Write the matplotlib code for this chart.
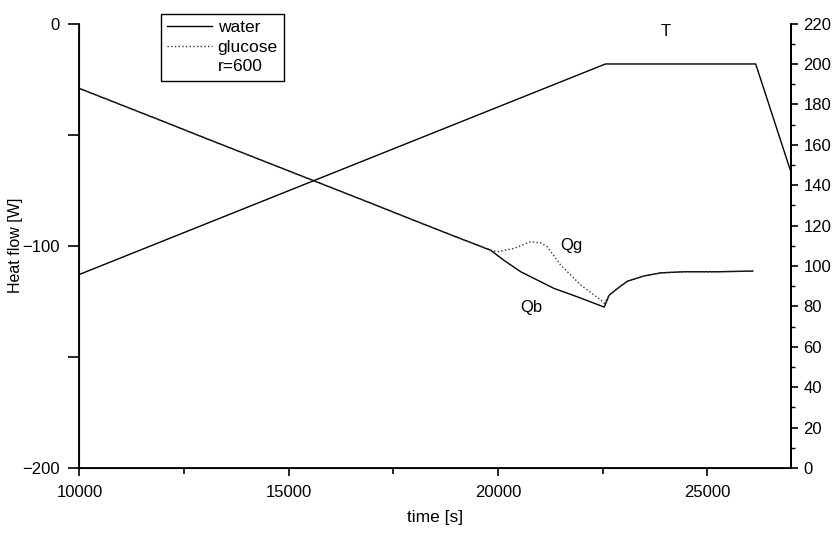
import matplotlib
matplotlib.use('Agg')
import matplotlib.pyplot as plt
from matplotlib.lines import Line2D
from matplotlib.ticker import MultipleLocator, FixedLocator

plt.rcParams['font.family'] = ['Liberation Sans', 'DejaVu Sans']
plt.rcParams['font.size'] = 12

# heat flow, water (baseline Qb)
t_water = [10000, 11000, 12000, 13000, 14000, 15000, 16000, 17000, 18000, 19000,
           19825, 20140, 20545, 21340, 21900, 22540,
           22660, 22860, 23100, 23490, 23890, 24450, 25250, 26090]
q_water = [-29.2, -36.6, -44.0, -51.5, -58.9, -66.3, -73.7, -81.1, -88.6, -96.0,
           -102.0, -106.5, -111.7, -119.2, -123.0, -127.6,
           -122.2, -119.2, -115.9, -113.6, -112.2, -111.7, -111.7, -111.4]

# heat flow, glucose (Qg)
t_gluc = [10000, 11000, 12000, 13000, 14000, 15000, 16000, 17000, 18000, 19000,
          19825, 19985, 20380, 20780, 21020, 21180, 21500, 21980, 22460, 22540,
          22660, 22860, 23100, 23490, 23890, 24450, 25250, 26090]
q_gluc = [-29.2, -36.6, -44.0, -51.5, -58.9, -66.3, -73.7, -81.1, -88.6, -96.0,
          -102.0, -102.7, -101.2, -98.2, -98.7, -100.5, -108.7, -117.7, -124.4, -125.9,
          -122.2, -119.2, -115.9, -113.6, -112.2, -111.7, -111.7, -111.4]

# temperature programme
t_temp = [10000, 22570, 26160, 27000]
temp = [95.8, 200, 200, 146.6]

fig = plt.figure(figsize=(8.36, 5.36), dpi=100)
ax1 = fig.add_axes([0.095, 0.127, 0.851, 0.829])

ax1.plot(t_water, q_water, color='black', linewidth=1.0)
ax1.plot(t_gluc, q_gluc, color='#333333', linestyle=':', linewidth=1.0)

ax1.set_xlim(10000, 27000)
ax1.set_ylim(-200, 0)
ax1.xaxis.set_major_locator(MultipleLocator(5000))
ax1.xaxis.set_minor_locator(MultipleLocator(2500))
ax1.yaxis.set_major_locator(FixedLocator([-200, -100, 0]))
ax1.yaxis.set_minor_locator(FixedLocator([-150, -50]))
ax1.tick_params(axis='x', which='major', direction='out', length=6, width=1.2, pad=6)
ax1.tick_params(axis='x', which='minor', direction='out', length=4, width=1.2)
ax1.tick_params(axis='y', which='both', direction='out', length=8, width=1.2, pad=6)
ax1.set_xlabel('time [s]', fontsize=12.5)
ax1.xaxis.set_label_coords(0.5, -0.095)
ax1.set_ylabel('Heat flow [W]', fontsize=11.5)
ax1.yaxis.set_label_coords(-0.079, 0.5)
ax1.spines['top'].set_visible(False)
for s in ['left', 'bottom', 'right']:
    ax1.spines[s].set_linewidth(1.3)

ax1.text(21500, -99.7, 'Qg', ha='left', va='center')
ax1.text(20540, -127.7, 'Qb', ha='left', va='center')

ax2 = ax1.twinx()
ax2.plot(t_temp, temp, color='black', linewidth=1.0)
ax2.set_ylim(0, 220)
ax2.yaxis.set_major_locator(MultipleLocator(20))
ax2.yaxis.set_minor_locator(MultipleLocator(10))
ax2.tick_params(axis='y', which='major', direction='out', length=5, width=1.2, pad=4)
ax2.tick_params(axis='y', which='minor', direction='out', length=3, width=1.0)
ax2.spines['top'].set_visible(False)
ax2.spines['right'].set_linewidth(1.3)
ax2.text(24000, 216, 'T', ha='center', va='center')

handles = [Line2D([], [], color='black', linewidth=1.0),
           Line2D([], [], color='#333333', linestyle=':', linewidth=1.0),
           Line2D([], [], color='none')]
leg = ax1.legend(handles, ['water', 'glucose', 'r=600'], loc='upper left',
                 bbox_to_anchor=(0.115, 1.021), borderaxespad=0, fancybox=False,
                 edgecolor='black', handlelength=2.6, handletextpad=0.3,
                 labelspacing=0.25, borderpad=0.35, framealpha=1, fontsize=12.5)
leg.get_frame().set_linewidth(1.0)

plt.savefig('out.png', dpi=100)
